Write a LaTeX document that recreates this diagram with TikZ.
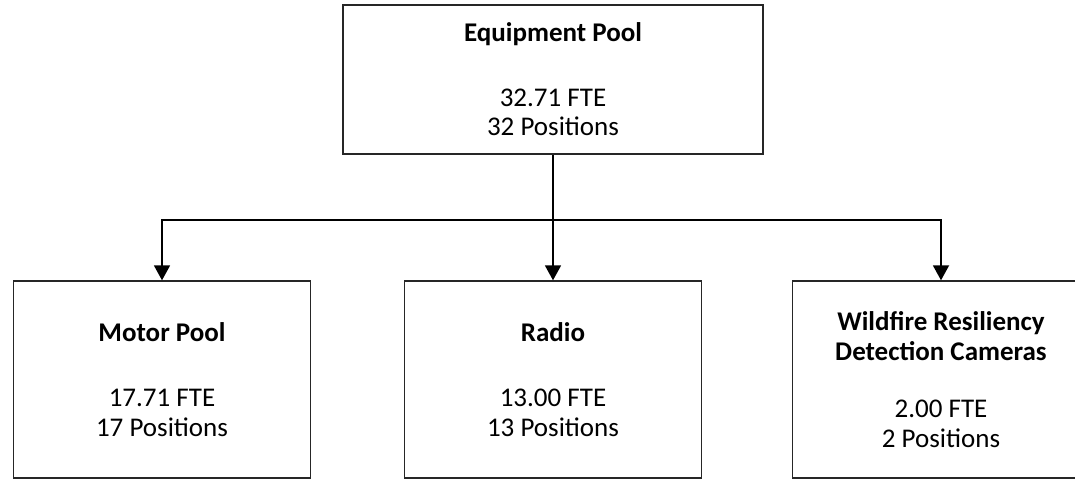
\documentclass[tikz,border=0pt]{standalone}
\usepackage{fontspec}
\setmainfont{Carlito}
\usetikzlibrary{arrows.meta}
\usetikzlibrary{positioning}

\tikzset{
  unitbox/.style={draw=black!85, line width=1.4pt, minimum width=297pt,
    minimum height=197pt, align=center, inner sep=0pt,
    font=\fontsize{27}{29.5}\selectfont},
  link/.style={line width=1.8pt, -{Triangle[length=15pt,width=16pt]}},
}

\begin{document}
\begin{tikzpicture}[x=1pt,y=1pt]
		
		\useasboundingbox (0,0) rectangle (1075,479);
		
		% Parent unit
		\node[unitbox, minimum width=420pt, minimum height=149pt] (pool) at (553,399.5)
		{\textbf{Equipment Pool}\\[35pt] 32.71 FTE\\ 32 Positions};
		
		% Sub units
		\node[unitbox] (motor) at (162,99.5)
		{\textbf{Motor Pool}\\[36pt] 17.71 FTE\\ 17 Positions};
		\node[unitbox] (radio) at (553,99.5)
		{\textbf{Radio}\\[36pt] 13.00 FTE\\ 13 Positions};
		\node[unitbox] (cams) at (941,99.5)
		{\textbf{Wildfire Resiliency}\\ \textbf{Detection Cameras}\\[28pt] 2.00 FTE\\ 2 Positions};
		
		% Branch point below the parent
		\coordinate (split) at (553,259);
		
		\draw[line width=1.8pt] (pool.south) -- (split);
		\draw[link] (split) -- (radio.north);
		\draw[link] (split) -| (motor.north);
		\draw[link] (split) -| (cams.north);
		
	\end{tikzpicture}
\end{document}
